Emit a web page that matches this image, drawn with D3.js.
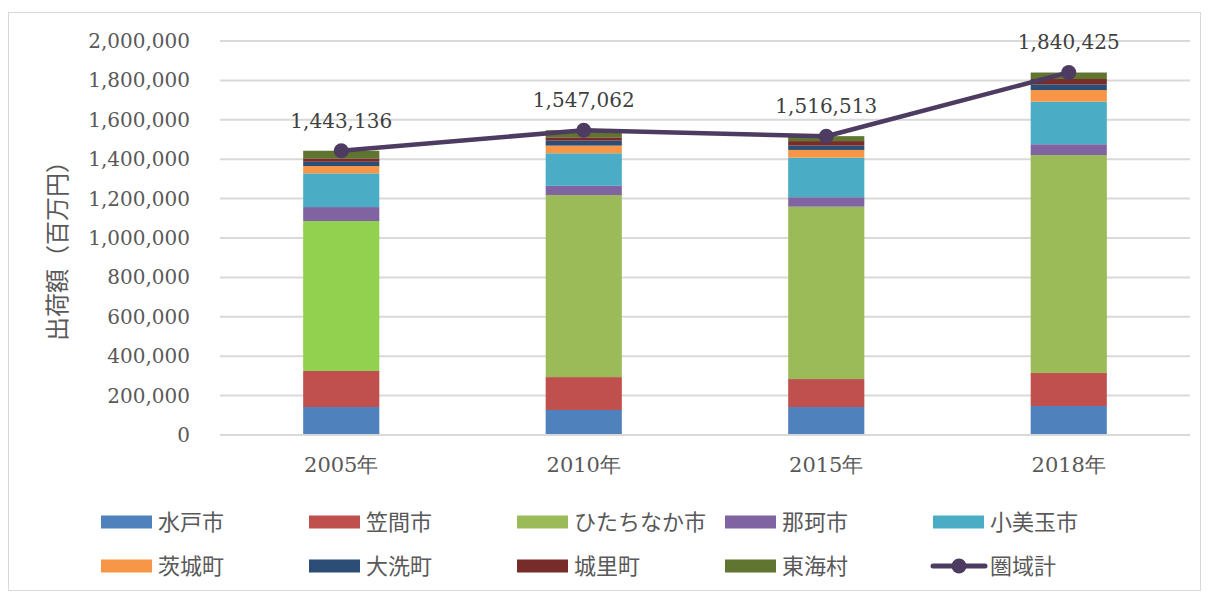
<!DOCTYPE html>
<html>
<head>
	<meta charset="UTF-8" />
	<title>出荷額</title>
	<script src="https://d3js.org/d3.v7.min.js"></script>
	<style>
		body { margin: 0; background: #fff; }
	</style>
</head>
<body>
	<svg id="chart" width="1209" height="594"></svg>

	<script type="text/javascript">

	// data (百万円)
	var years = ["2005年", "2010年", "2015年", "2018年"]
	var cities = ["水戸市", "笠間市", "ひたちなか市", "那珂市", "小美玉市", "茨城町", "大洗町", "城里町", "東海村"]
	var mito     = [142000, 127000, 142000, 147000]
	var kasama   = [183000, 167000, 142000, 168000]
	var hitachinaka = [761000, 924000, 875000, 1106000]
	var naka     = [71000, 47000, 48000, 55000]
	var omitama  = [171000, 165000, 201000, 216000]
	var ibaraki  = [37000, 39000, 39000, 59000]
	var oarai    = [22000, 25000, 22000, 29000]
	var shirosato = [17000, 17000, 23000, 27000]
	var tokai    = [39000, 36000, 25000, 33000]
	var totals   = [1443136, 1547062, 1516513, 1840425]
	var yTicks   = [0, 200000, 400000, 600000, 800000, 1000000, 1200000, 1400000, 1600000, 1800000, 2000000]

	var seriesValues = [mito, kasama, hitachinaka, naka, omitama, ibaraki, oarai, shirosato, tokai]
	var colors = ["#4F81BD", "#C0504D", "#9BBB59", "#8064A2", "#4BACC6", "#F79646", "#2C4D75", "#772C2A", "#5F7530"]
	var lineColor = "#4D3B62"

	var rows = years.map((y, i) => {
		var r = {year: y}
		cities.forEach((c, j) => r[c] = seriesValues[j][i])
		return r
	})

	var svg = d3.select("#chart")
	var numFont = "'DejaVu Serif', serif"
	var jpFont = "'Noto Sans CJK JP', sans-serif"

	// outer frame
	svg.append("rect")
		.attr("x", 8.5).attr("y", 12.5)
		.attr("width", 1192).attr("height", 578)
		.attr("fill", "white").attr("stroke", "#d9d9d9").attr("stroke-width", 1)

	var plotLeft = 220, plotRight = 1190, plotTop = 41, plotBottom = 435

	var x = d3.scaleBand().domain(years).range([plotLeft, plotRight]).paddingInner(0.686).paddingOuter(0.343)
	var y = d3.scaleLinear().domain([0, 2000000]).range([plotBottom, plotTop])

	// gridlines
	svg.append("g")
		.selectAll("line")
		.data(yTicks.slice(1))
		.enter()
		.append("line")
		.attr("x1", plotLeft).attr("x2", plotRight)
		.attr("y1", d => y(d)).attr("y2", d => y(d))
		.attr("stroke", "#d9d9d9").attr("stroke-width", 2)

	// y axis labels
	var yAxis = d3.axisLeft(y).tickValues(yTicks).tickFormat(d3.format(",")).tickSize(0).tickPadding(30)
	var yg = svg.append("g").attr("transform", "translate(" + plotLeft + ",0)").call(yAxis)
	yg.select(".domain").remove()
	yg.selectAll("text")
		.attr("font-family", numFont).attr("font-size", "20px").attr("fill", "#595959")

	// stacked bars
	var stack = d3.stack().keys(cities)
	var layers = stack(rows)

	svg.append("g")
		.selectAll("g")
		.data(layers)
		.enter()
		.append("g")
		.each(function(layer, li) {
			d3.select(this).selectAll("rect")
				.data(layer)
				.enter()
				.append("rect")
				.attr("x", d => x(d.data.year))
				.attr("width", x.bandwidth())
				.attr("y", d => y(d[1]))
				.attr("height", d => y(d[0]) - y(d[1]))
				// 2005 ひたちなか市 is drawn in a brighter green in the original
				.attr("fill", d => (li == 2 && d.data.year == "2005年") ? "#92D050" : colors[li])
		})

	// x axis baseline
	svg.append("line")
		.attr("x1", plotLeft).attr("x2", plotRight)
		.attr("y1", plotBottom).attr("y2", plotBottom)
		.attr("stroke", "#d9d9d9").attr("stroke-width", 2)

	var xAxis = d3.axisBottom(x).tickSize(0).tickPadding(22)
	var xg = svg.append("g").attr("transform", "translate(0," + plotBottom + ")").call(xAxis)
	xg.select(".domain").remove()
	xg.selectAll("text")
		.attr("font-family", numFont).attr("font-size", "21px").attr("fill", "#595959")

	// y axis title
	svg.append("text")
		.attr("transform", "translate(66,245) rotate(-90)")
		.attr("text-anchor", "middle")
		.attr("font-family", jpFont).attr("font-size", "24px").attr("fill", "#595959")
		.text("出荷額（百万円）")

	// total line
	var cx = (d, i) => x(years[i]) + x.bandwidth() / 2
	var line = d3.line().x(cx).y(d => y(d))

	svg.append("path")
		.datum(totals)
		.attr("d", line)
		.attr("fill", "none").attr("stroke", lineColor).attr("stroke-width", 4.5)
		.attr("stroke-linejoin", "round")

	svg.append("g")
		.selectAll("circle")
		.data(totals)
		.enter()
		.append("circle")
		.attr("cx", cx).attr("cy", d => y(d))
		.attr("r", 7.5).attr("fill", lineColor)

	svg.append("g")
		.selectAll("text")
		.data(totals)
		.enter()
		.append("text")
		.attr("x", cx).attr("y", d => y(d) - 23)
		.attr("text-anchor", "middle")
		.attr("font-family", numFont).attr("font-size", "20px").attr("fill", "#404040")
		.text(d => d3.format(",")(d))

	// legend
	var legendItems = cities.map((c, i) => ({name: c, color: colors[i], type: "rect"}))
	legendItems.push({name: "圏域計", color: lineColor, type: "line"})

	var legend = svg.append("g")
		.selectAll("g")
		.data(legendItems)
		.enter()
		.append("g")
		.attr("transform", (d, i) => "translate(" + (101 + (i % 5) * 208) + "," + (522 + Math.floor(i / 5) * 44) + ")")

	legend.filter(d => d.type == "rect")
		.append("rect")
		.attr("x", 0).attr("y", -6.5).attr("width", 51).attr("height", 13)
		.attr("fill", d => d.color)

	var lineItems = legend.filter(d => d.type == "line")
	lineItems.append("line")
		.attr("x1", 0).attr("x2", 52).attr("y1", 0).attr("y2", 0)
		.attr("stroke", d => d.color).attr("stroke-width", 5).attr("stroke-linecap", "round")
	lineItems.append("circle")
		.attr("cx", 26).attr("cy", 0).attr("r", 7.5).attr("fill", d => d.color)

	legend.append("text")
		.attr("x", 57).attr("y", 0).attr("dy", "0.35em")
		.attr("font-family", jpFont).attr("font-size", "22px").attr("fill", "#595959")
		.text(d => d.name)

	</script>
</body>
</html>
